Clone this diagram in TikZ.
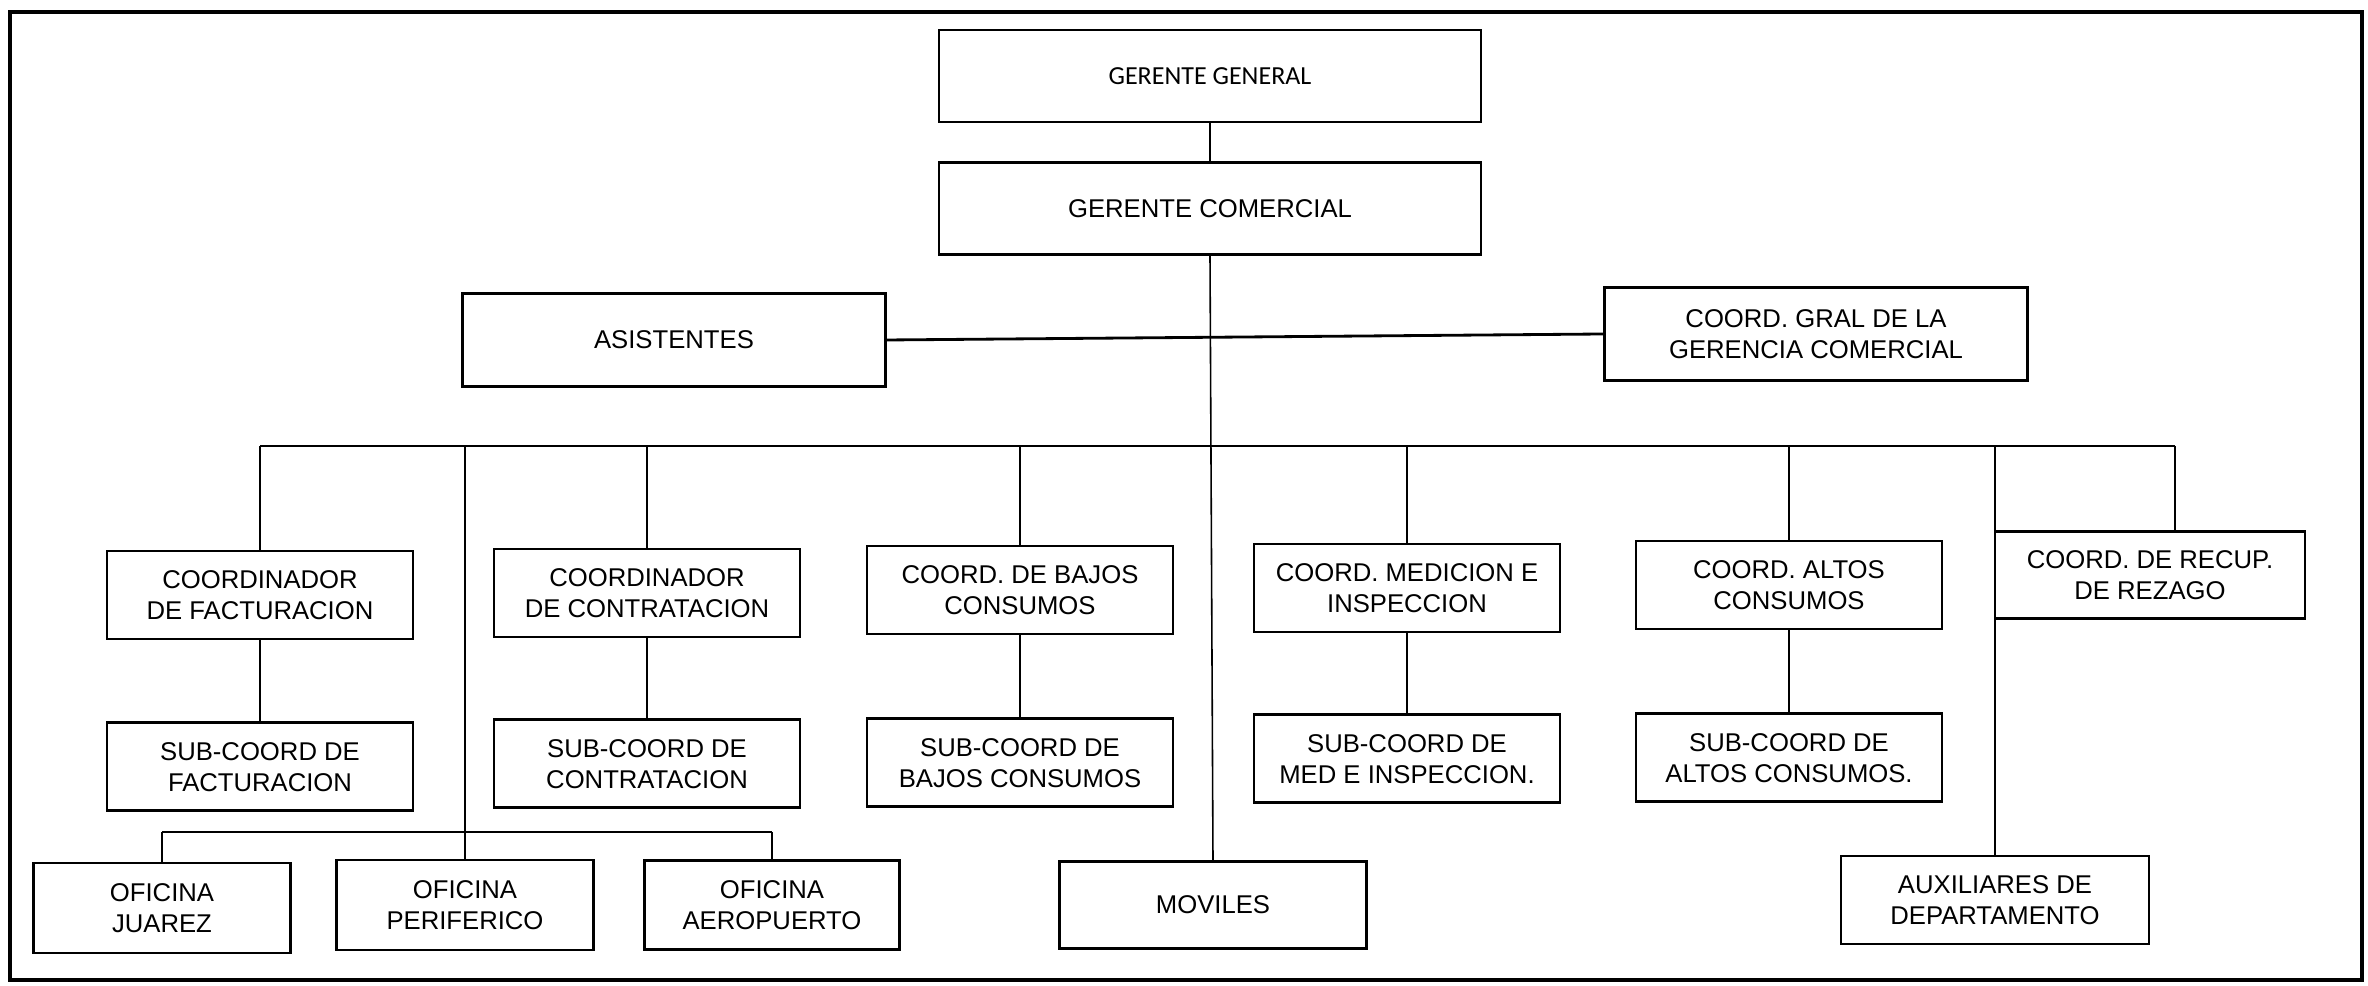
\documentclass[tikz,border=0pt]{standalone}
\usepackage{fontspec}
\setmainfont{Liberation Sans}
\newfontfamily\calibrifont{Carlito}
\usetikzlibrary{positioning, calc}

\begin{document}
\begin{tikzpicture}[
    x=0.01cm, y=-0.01cm,
    unit/.style={rectangle, draw=black, line width=0.75pt, minimum width=3.06cm, minimum height=0.88cm, align=center, inner sep=0pt, font=\fontsize{7.3}{8.8}\selectfont},
    head/.style={unit, minimum width=5.42cm, minimum height=0.92cm},
    side/.style={unit, minimum width=4.23cm, minimum height=0.93cm},
    office/.style={unit, minimum width=2.57cm, minimum height=0.9cm},
    link/.style={draw=black, line width=0.45pt},
    bus/.style={draw=black, line width=0.8pt}
]
\useasboundingbox (0,0) rectangle (2368,986);
\draw[line width=0.9pt] (10,12) rectangle (2362,980);

% Gerencia
\node[head, font=\calibrifont\fontsize{7.4}{9}\selectfont] (gg) at (1210,76) {GERENTE GENERAL};
\node[head, below=0.38cm of gg] (gc) {GERENTE COMERCIAL};
\draw[link] (gg) -- (gc);

% Staff
\node[side] (asis) at (674,340) {ASISTENTES};
\node[side] (cgral) at (1816,334) {COORD. GRAL DE LA\\GERENCIA COMERCIAL};
\draw[bus] (asis.east) -- (cgral.west);

% Coordinaciones
\node[unit] (cfact) at (260,595) {COORDINADOR\\DE FACTURACION};
\node[unit] (ccont) at (647,593) {COORDINADOR\\DE CONTRATACION};
\node[unit] (cbajos) at (1020,590) {COORD. DE BAJOS\\CONSUMOS};
\node[unit] (cmed) at (1407,588) {COORD. MEDICION E\\INSPECCION};
\node[unit] (caltos) at (1789,585) {COORD. ALTOS\\CONSUMOS};
\node[unit, minimum width=3.1cm, minimum height=0.87cm] (crez) at (2150,575) {COORD. DE RECUP.\\DE REZAGO};

% Sub-coordinaciones
\node[unit, below=0.81cm of cfact] (sfact) {SUB-COORD DE\\FACTURACION};
\node[unit, below=0.8cm of ccont] (scont) {SUB-COORD DE\\CONTRATACION};
\node[unit, below=0.82cm of cbajos] (sbajos) {SUB-COORD DE\\BAJOS CONSUMOS};
\node[unit, below=0.8cm of cmed] (smed) {SUB-COORD DE\\MED E INSPECCION.};
\node[unit, below=0.82cm of caltos] (saltos) {SUB-COORD DE\\ALTOS CONSUMOS.};
\draw[link] (cfact) -- (sfact);
\draw[link] (ccont) -- (scont);
\draw[link] (cbajos) -- (sbajos);
\draw[link] (cmed) -- (smed);
\draw[link] (caltos) -- (saltos);

% Oficinas y auxiliares
\node[office] (ojuarez) at (162,908) {OFICINA\\JUAREZ};
\node[office] (operif) at (465,905) {OFICINA\\PERIFERICO};
\node[office, minimum width=2.55cm, minimum height=0.89cm] (oaero) at (772,905) {OFICINA\\AEROPUERTO};
\node[unit, minimum width=3.07cm, minimum height=0.87cm] (moviles) at (1213,905) {MOVILES};
\node[unit, minimum width=3.08cm] (aux) at (1995,900) {AUXILIARES DE\\DEPARTAMENTO};

% Main bus
\coordinate (busL) at (260,446);
\coordinate (busR) at (2175,446);
\coordinate (ofbus) at (465,832);
\draw[bus] (busL) -- (busR);
\draw[link] (gc.south) -- (moviles.north);
\draw[link] (busL) -- (cfact.north);
\draw[link] (ccont.north |- busL) -- (ccont.north);
\draw[link] (cbajos.north |- busL) -- (cbajos.north);
\draw[link] (cmed.north |- busL) -- (cmed.north);
\draw[link] (caltos.north |- busL) -- (caltos.north);
\draw[link] (busR) -- (busR |- crez.north);
\draw[link] (aux.north |- busL) -- (aux.north);
\draw[link] (operif.north |- busL) -- (operif.north);

% Oficinas bus
\draw[bus] (ojuarez.north |- ofbus) -- (oaero.north |- ofbus);
\draw[link] (ojuarez.north |- ofbus) -- (ojuarez.north);
\draw[link] (oaero.north |- ofbus) -- (oaero.north);

\end{tikzpicture}
\end{document}
